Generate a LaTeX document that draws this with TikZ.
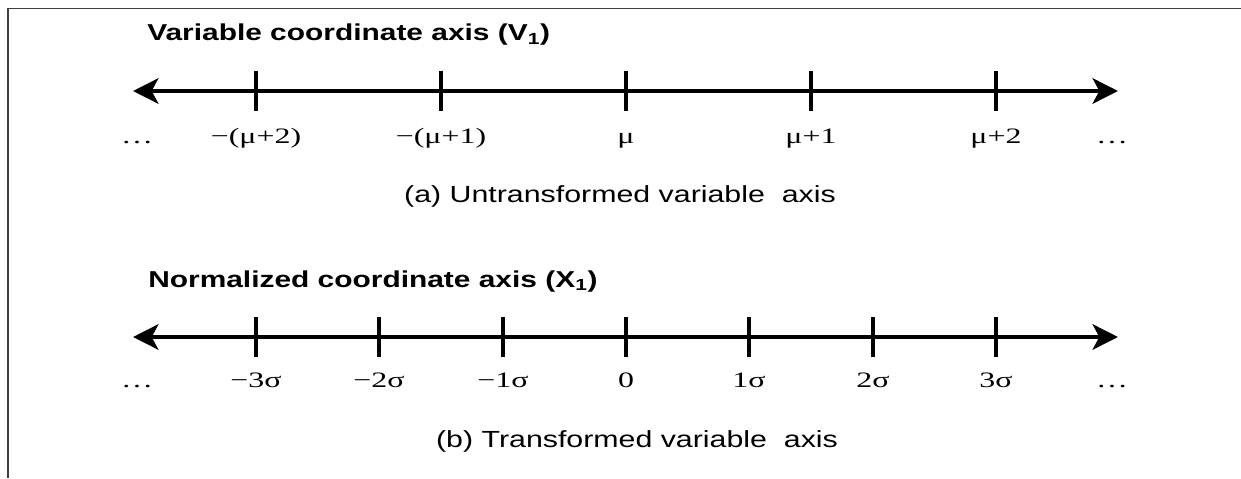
\documentclass[tikz,border=0pt]{standalone}
\usepackage{fontspec}
\setmainfont{Liberation Sans}
\newfontfamily\headfont[FakeStretch=1.3]{Liberation Sans}
\newfontfamily\labfont[FakeStretch=1.45]{Liberation Serif}
\usetikzlibrary{arrows.meta}

\tikzset{
  numline/.style={line width=3.3pt,
    {Stealth[length=19pt,width=19pt,inset=5pt]}-{Stealth[length=19pt,width=19pt,inset=5pt]}},
  tickmark/.style={line width=2.5pt},
  ticklab/.style={anchor=base, inner sep=0pt, font=\labfont\fontsize{16.5}{18}\selectfont},
  heading/.style={anchor=base west, inner sep=0pt, font=\headfont\bfseries\fontsize{17.25}{20}\selectfont},
  subcap/.style={anchor=base, inner sep=0pt, font=\headfont\fontsize{17.5}{20}\selectfont},
}

\begin{document}
\begin{tikzpicture}[x=0.75pt,y=-0.75pt]
\useasboundingbox (0,0) rectangle (1241,478);
\draw[black!75, line width=1.1pt] (8,478) -- (8,8.5) -- (1241,8.5);

% (a) untransformed axis
\node[heading] (headV) at (147,41) {Variable coordinate axis (V\textsubscript{1})};
\coordinate (vL) at (133,91);
\coordinate (vR) at (1118,91);
\draw[numline] (vL) -- (vR);
\draw[tickmark] (256,71) -- (256,111); \node[ticklab] (vm2) at (256,143) {−(μ+2)};
\draw[tickmark] (441,71) -- (441,111); \node[ticklab] (vm1) at (441,143) {−(μ+1)};
\draw[tickmark] (626,71) -- (626,111); \node[ticklab] (v0) at (626,143) {μ};
\draw[tickmark] (811,71) -- (811,111); \node[ticklab] (vp1) at (811,143) {μ+1};
\draw[tickmark] (996,71) -- (996,111); \node[ticklab] (vp2) at (996,143) {μ+2};
\node[ticklab] (vdotsL) at (137,143) {\ldots};
\node[ticklab] (vdotsR) at (1112,143) {\ldots};
\node[subcap] (capA) at (620,202) {(a) Untransformed variable~ axis};

% (b) transformed axis
\node[heading] (headX) at (148,287) {Normalized coordinate axis (X\textsubscript{1})};
\coordinate (xL) at (133,337);
\coordinate (xR) at (1118,337);
\draw[numline] (xL) -- (xR);
\draw[tickmark] (256,317) -- (256,357); \node[ticklab] (xm3) at (256,387) {−3σ};
\draw[tickmark] (379,317) -- (379,357); \node[ticklab] (xm2) at (379,387) {−2σ};
\draw[tickmark] (503,317) -- (503,357); \node[ticklab] (xm1) at (503,387) {−1σ};
\draw[tickmark] (626,317) -- (626,357); \node[ticklab] (x0) at (626,387) {0};
\draw[tickmark] (749,317) -- (749,357); \node[ticklab] (xp1) at (749,387) {1σ};
\draw[tickmark] (873,317) -- (873,357); \node[ticklab] (xp2) at (873,387) {2σ};
\draw[tickmark] (996,317) -- (996,357); \node[ticklab] (xp3) at (996,387) {3σ};
\node[ticklab] (xdotsL) at (137,387) {\ldots};
\node[ticklab] (xdotsR) at (1112,387) {\ldots};
\node[subcap] (capB) at (637,447) {(b) Transformed variable~ axis};
\end{tikzpicture}
\end{document}
